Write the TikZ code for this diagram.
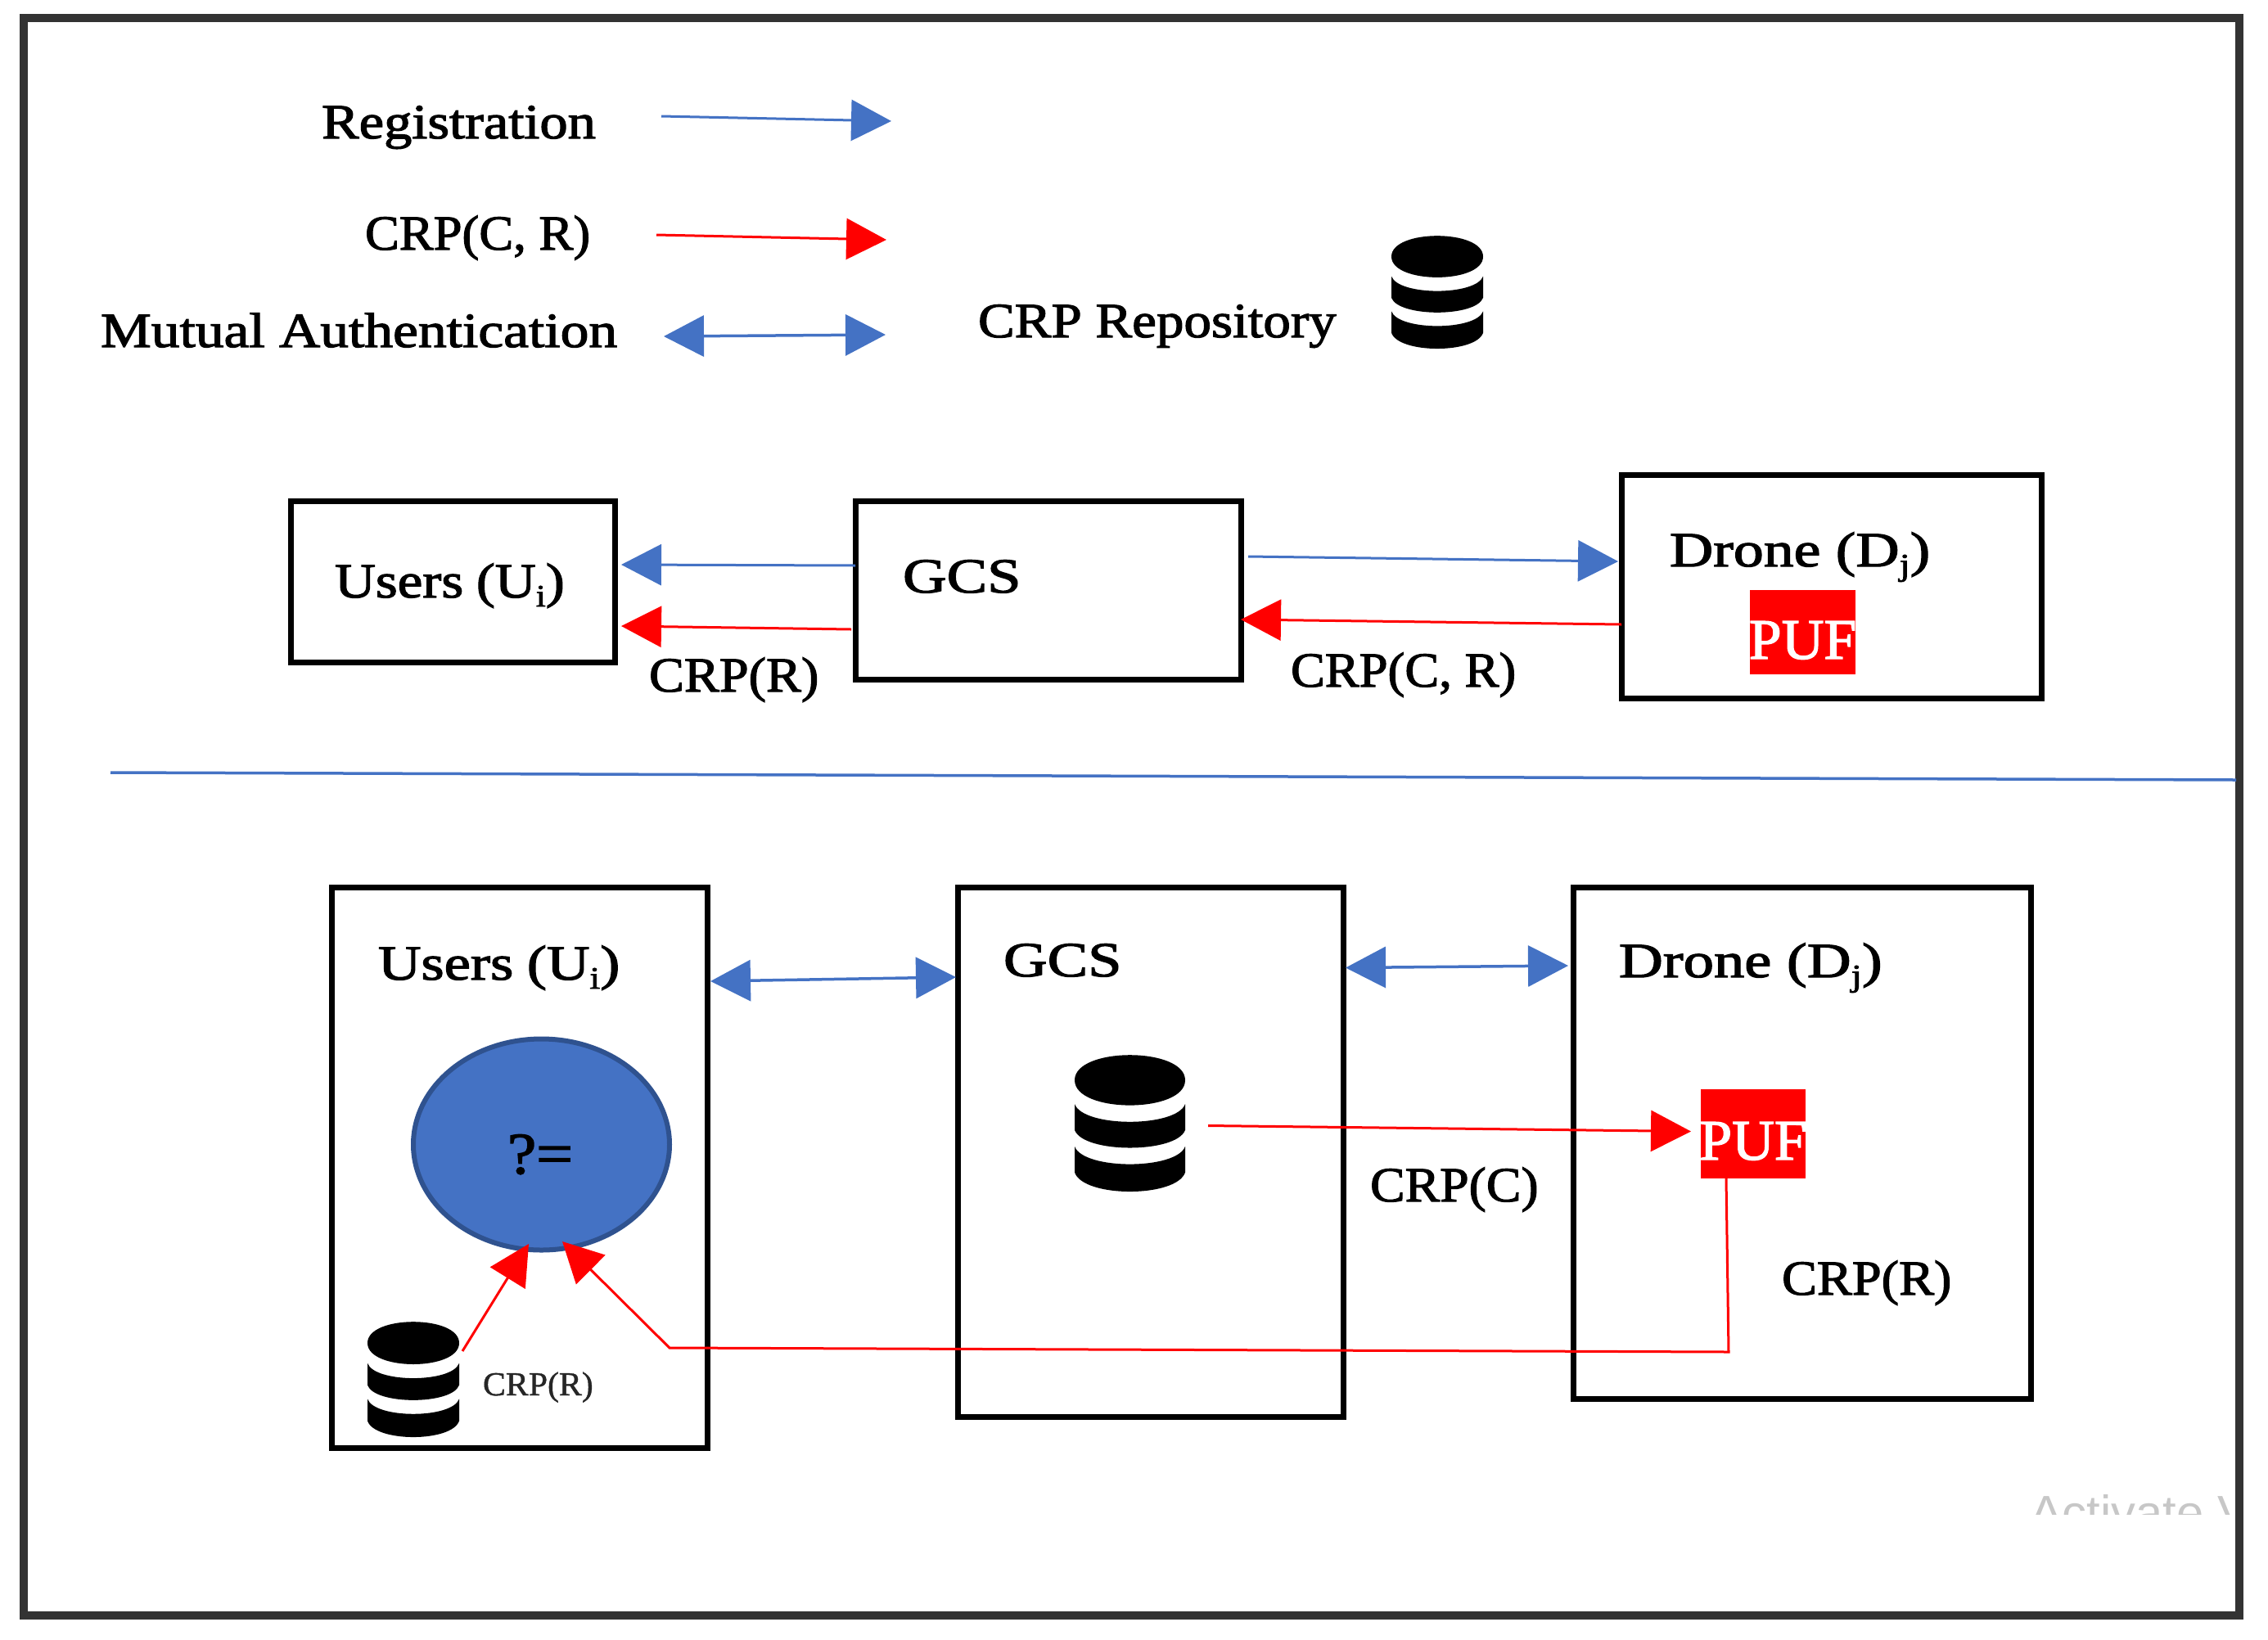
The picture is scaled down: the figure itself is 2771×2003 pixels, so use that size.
\documentclass[tikz,border=0pt]{standalone}
\usepackage{fontspec}
\setmainfont[FakeBold=2,FakeStretch=1.1]{Liberation Serif}
\newfontfamily\plainserif[FakeBold=1,FakeStretch=1.02]{Liberation Serif}
\newfontfamily\wmfont{Liberation Sans}
\usetikzlibrary{arrows.meta,shapes.geometric}
\definecolor{mblue}{HTML}{4472C4}
\definecolor{mdark}{HTML}{2F528F}
\definecolor{mred}{HTML}{FF0000}
\definecolor{mframe}{HTML}{333333}
\newcommand{\bigfont}{\fontsize{60}{66}\selectfont}
\newcommand{\sbs}[1]{\raisebox{-11pt}{\fontsize{38}{40}\selectfont #1}}
\newcommand{\blackbox}[5]{\node[boxst,minimum width={#4-#2},minimum height={#5-#3}] (#1) at ({(#2+#4)/2},{(#3+#5)/2}) {};}
\newcommand{\txt}[5]{\node[txtst,xscale=#5] (#1) at (#2,#3) {#4};}
\newcommand{\pufbox}[5]{\node[pufst,minimum width={#4-#2},minimum height={#5-#3}] (#1) at ({(#2+#4)/2},{(#3+#5)/2}) {};}
\newcommand{\dbicon}[5]{%
  \coordinate (#1) at ({(#2+#4)/2},{(#3+#5)/2});
  \begin{scope}[shift={(#2,#3)},x={({(#4-#2)*1pt},0pt)},y={(0pt,{(#3-#5)*1pt})}]
    \fill[black] (0,.185) .. controls (0,-.06) and (1,-.06) .. (1,.185) .. controls (1,.43) and (0,.43) .. (0,.185) -- cycle;
    \fill[black] (0,.36) .. controls (.08,.533) and (.92,.533) .. (1,.36) -- (1,.55) .. controls (.92,.723) and (.08,.723) .. (0,.55) -- cycle;
    \fill[black] (0,.67) .. controls (.08,.843) and (.92,.843) .. (1,.67) -- (1,.86) .. controls (.92,1.047) and (.08,1.047) .. (0,.86) -- cycle;
  \end{scope}}
\tikzset{
  x=1pt,y=-1pt,
  boxst/.style={draw=black,line width=7pt,fill=white,inner sep=0pt,outer sep=0pt,rectangle},
  pufst/.style={fill=mred,draw=none,inner sep=0pt,outer sep=0pt,rectangle},
  txtst/.style={anchor=base west,inner sep=0pt,outer sep=0pt,font=\bigfont,text=black},
  whitetxt/.style={anchor=base,inner sep=0pt,outer sep=0pt,font=\fontsize{70}{74}\selectfont,text=white,xscale=.93},
  smalltxt/.style={anchor=base west,inner sep=0pt,outer sep=0pt,font=\plainserif\fontsize{41}{44}\selectfont,text=black!85},
  bluetip/.tip={Triangle[length=49pt,width=50pt]},
  redtip/.tip={Triangle[length=49pt,width=50pt]},
  bluearrow/.style={draw=mblue,line width=3pt,-{bluetip[fill=mblue]}},
  redarrow/.style={draw=mred,line width=3pt,-{redtip[fill=mred]}},
  bothblue/.style={draw=mblue,line width=3.5pt,{bluetip[fill=mblue]}-{bluetip[fill=mblue]}},
}
\begin{document}
\begin{tikzpicture}
\useasboundingbox (0,0) rectangle (2771,2003);
\fill[white] (0,0) rectangle (2771,2003);
\node[rectangle,draw=mframe,line width=10pt,inner sep=0pt,outer sep=0pt,minimum width=2707pt,minimum height=1952pt] (frame) at (1382.5,998) {};

% legend
\txt{lreg}{393}{169}{Registration}{1.038}
\txt{lcrp}{446}{305}{CRP(C, R)}{.95}
\txt{lmut}{123}{424}{Mutual Authentication}{1.053}
\txt{lrepo}{1195}{412}{CRP Repository}{1.016}
\coordinate (a1) at (808,142); \coordinate (a2) at (1089,148);
\coordinate (b1) at (802,287); \coordinate (b2) at (1083,293);
\coordinate (c1) at (811,411); \coordinate (c2) at (1082,409);
\draw[bluearrow] (a1) -- (a2);
\draw[redarrow] (b1) -- (b2);
\draw[bothblue] (c1) -- (c2);
\dbicon{dbrepo}{1700}{288}{1812}{426}

% upper row
\blackbox{uu}{355}{612}{751}{809}
\blackbox{ug}{1045}{612}{1516}{830}
\blackbox{ud}{1981}{580}{2494}{853}
\pufbox{upuf}{2138}{721}{2267}{824}
\node[whitetxt] (upuft) at (2202.5,805) {PUF};
\txt{uut}{409}{730}{Users\hspace{.25em}(U\sbs{i})}{1.046}
\txt{ugt}{1103}{724}{GCS}{1.125}
\txt{udt}{2040}{692}{Drone (D\sbs{j})}{1.118}
\txt{ucrpr}{793}{845}{CRP(R)}{.975}
\txt{ucrpcr}{1577}{839}{CRP(C, R)}{.95}
\coordinate (d1) at (1045,691); \coordinate (d2) at (759,690);
\coordinate (e1) at (1040,769); \coordinate (e2) at (759,765);
\coordinate (f1) at (1525,680); \coordinate (f2) at (1977,686);
\coordinate (g1) at (1981,763); \coordinate (g2) at (1516,757);
\draw[bluearrow] (d1) -- (d2);
\draw[redarrow] (e1) -- (e2);
\draw[bluearrow] (f1) -- (f2);
\draw[redarrow] (g1) -- (g2);

% separator
\coordinate (s1) at (135,944); \coordinate (s2) at (2732,953);
\draw[draw=mblue,line width=3.5pt] (s1) -- (s2);

% lower row
\blackbox{lu}{405}{1084}{864}{1769}
\blackbox{lg}{1170}{1084}{1641}{1731}
\blackbox{ld}{1922}{1084}{2481}{1709}
\txt{lut}{462}{1197}{Users\hspace{.25em}(U\sbs{i})}{1.10}
\txt{lgt}{1226}{1193}{GCS}{1.125}
\txt{ldt}{1978}{1194}{Drone (D\sbs{j})}{1.13}
\node[ellipse,fill=mblue,draw=mdark,line width=6pt,inner sep=0pt,outer sep=0pt,minimum width=313pt,minimum height=258pt] (cmp) at (661.5,1398.5) {};
\node[anchor=base,inner sep=0pt,outer sep=0pt,font=\fontsize{72}{76}\selectfont,xscale=1.0] (cmpt) at (660,1434) {?=};
\dbicon{dbgcs}{1313}{1289}{1448}{1456}
\dbicon{dbuser}{449}{1615}{561}{1756}
\node[smalltxt] (lusmall) at (590,1705) {CRP(R)};
\pufbox{lpuf}{2078}{1331}{2206}{1440}
\node[whitetxt] (lpuft) at (2142,1417) {PUF};
\txt{lcrpc}{1674}{1468}{CRP(C)}{.967}
\txt{lcrpr}{2177}{1582}{CRP(R)}{.975}
\coordinate (h1) at (868,1199); \coordinate (h2) at (1168,1194);
\coordinate (i1) at (1644,1182.5); \coordinate (i2) at (1916,1180);
\coordinate (j1) at (1476,1375.5); \coordinate (j2) at (2066,1382.5);
\coordinate (k1) at (565,1651); \coordinate (k2) at (646,1520);
\coordinate (m1) at (2109,1440); \coordinate (m2) at (2112,1652); \coordinate (m3) at (818,1647); \coordinate (m4) at (687,1517);
\draw[bothblue] (h1) -- (h2);
\draw[bothblue] (i1) -- (i2);
\draw[redarrow] (j1) -- (j2);
\draw[redarrow] (k1) -- (k2);
\draw[redarrow] (m1) -- (m2) -- (m3) -- (m4);

% clipped watermark
\begin{scope}
\clip (2440,1800) rectangle (2731,1850);
\node[anchor=base west,inner sep=0pt,outer sep=0pt,font=\wmfont\fontsize{58}{60}\selectfont,text=black!22,xscale=1.03] (wm) at (2480,1868) {Activate V};
\end{scope}
\end{tikzpicture}
\end{document}
